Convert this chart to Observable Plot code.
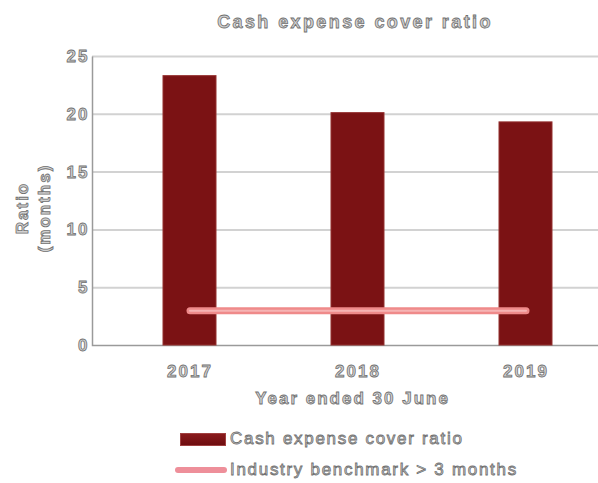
<!DOCTYPE html>
<html>
<head>
<meta charset="utf-8">
<script src="https://cdn.jsdelivr.net/npm/d3@7"></script>
<script src="https://cdn.jsdelivr.net/npm/@observablehq/plot@0.6"></script>
<style>
  html, body { margin: 0; padding: 0; background: #fff; }
  body { position: relative; width: 598px; height: 483px; overflow: hidden; font-family: "Liberation Sans", Arial, sans-serif; }
  .outl { color: #d2d2d2; -webkit-text-stroke: 0.8px #707070; }
  #title { position: absolute; top: 12px; left: 112px; width: 486px; text-align: center; font-size: 18px; font-weight: bold; letter-spacing: 2.4px; }
  #chart { position: absolute; top: 45px; left: 0; }
  #chart svg text { fill: #d2d2d2; stroke: #707070; stroke-width: 0.8px; }
  #legend { position: absolute; top: 428px; left: 0; width: 598px; font-size: 17px; letter-spacing: 1.7px; }
  .row { position: absolute; left: 175px; height: 22px; display: flex; align-items: center; white-space: nowrap; }
  .sw1 { width: 46px; height: 13px; margin-left: 5px; margin-right: 4px; background: linear-gradient(#8a1a1c, #6e0d10); border: 1px solid #a04040; box-sizing: border-box; }
  .sw2 { width: 52px; height: 6px; border-radius: 3px; background: #ee8f9a; margin-right: 3px; }
</style>
</head>
<body>
<div id="title" class="outl">Cash expense cover ratio</div>
<div id="chart"></div>
<div id="legend">
  <div class="row" style="top:0px"><div class="sw1"></div><span class="outl">Cash expense cover ratio</span></div>
  <div class="row" style="top:31px"><div class="sw2"></div><span class="outl">Industry benchmark &gt; 3 months</span></div>
</div>
<script>
const years = ["2017", "2018", "2019"];
const ratios = [23.3, 20.1, 19.3];
const benchmark = [3, 3, 3];
const yTicks = [0, 5, 10, 15, 20, 25];
const xLabel = "Year ended 30 June";
const yLabel = "Ratio\n(months)";

const barData = years.map((y, i) => ({year: y, value: ratios[i]}));
const benchData = years.map((y, i) => ({year: y, value: benchmark[i]}));

const W = 598 - 92, H = 289;

const chart = Plot.plot({
  width: 598,
  height: 375,
  marginLeft: 92,
  marginRight: 0,
  marginTop: 11,
  marginBottom: 75,
  style: {fontFamily: "'Liberation Sans', Arial, sans-serif", background: "transparent"},
  x: {domain: years, range: [95, 619], paddingInner: 0.685, paddingOuter: 0.4, label: null},
  y: {domain: [0, 25], label: null},
  marks: [
    Plot.ruleY(yTicks.filter(d => d > 0), {stroke: "#d2d2d2", strokeWidth: 2}),
    Plot.frame({stroke: "#9a9a9a", strokeWidth: 1.5, strokeDasharray: `0,${W + H},${W + H}`}),
    Plot.barY(barData, {x: "year", y: "value", fill: "#7b1214", stroke: "#94302f", strokeWidth: 1}),
    Plot.lineY(benchData, {x: "year", y: "value", stroke: "#ef8a8a", strokeWidth: 7, strokeLinecap: "round"}),
    Plot.lineY(benchData, {x: "year", y: "value", stroke: "#f6b4b4", strokeWidth: 2, strokeLinecap: "round"}),
    Plot.axisY({ticks: yTicks, tickSize: 0, tickPadding: 3, fontSize: 17, fontWeight: "bold", label: null}),
    Plot.axisX({tickSize: 0, tickPadding: 19, fontSize: 17, fontWeight: "bold", label: null}),
    Plot.text([xLabel], {frameAnchor: "bottom", dy: 58, dx: 7, fontSize: 17, fontWeight: "bold"}),
    Plot.text([yLabel], {frameAnchor: "left", textAnchor: "middle", rotate: -90, dx: -61, dy: 7, fontSize: 17, fontWeight: "bold", lineHeight: 1.3})
  ]
});
chart.querySelectorAll("text").forEach(t => t.setAttribute("letter-spacing", "2"));
document.getElementById("chart").appendChild(chart);
</script>
</body>
</html>
